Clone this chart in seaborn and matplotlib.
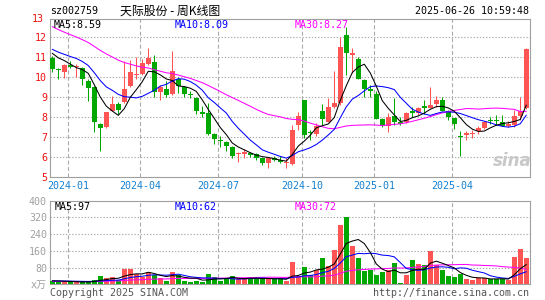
import numpy as np
import pandas as pd
import matplotlib
matplotlib.use("Agg")
import matplotlib.pyplot as plt
import seaborn as sns

# ---------------- data (weekly) ----------------
opens = [10.95, 10.43, 10.28, 10.62, 10.50, 10.48, 9.83, 9.50, 7.67, 7.53,
         8.32, 8.67, 8.78, 9.57, 10.13, 10.15, 10.67, 10.75, 9.28, 9.40,
         9.17, 9.90, 9.53, 9.13, 8.98, 8.21, 8.20, 7.17, 6.84, 6.78,
         6.52, 6.16, 6.19, 6.20, 6.15, 5.97, 5.70, 5.91, 5.88, 5.71,
         5.65, 7.62, 8.87, 7.24, 7.17, 8.32, 7.78, 8.53, 8.70, 12.12,
         11.12, 10.92, 9.87, 9.40, 9.15, 7.92, 7.57, 8.08, 7.78, 7.78,
         8.26, 8.23, 8.51, 8.48, 8.65, 8.87, 8.33, 7.95, 7.04, 7.14,
         7.16, 7.33, 7.45, 7.84, 7.84, 7.75, 7.57, 7.62, 8.08, 8.45]
highs = [11.05, 10.45, 10.68, 10.80, 10.68, 10.53, 9.90, 9.55, 7.70, 8.28,
         9.08, 8.75, 10.82, 10.87, 11.00, 10.92, 11.45, 11.12, 9.60, 9.83,
         11.30, 10.03, 9.58, 9.33, 9.00, 8.58, 8.70, 7.20, 7.08, 6.82,
         6.55, 6.25, 6.40, 6.28, 6.23, 5.98, 6.00, 6.08, 6.05, 5.95,
         7.62, 8.28, 8.88, 7.37, 7.73, 8.65, 8.95, 10.33, 12.00, 12.50,
         11.48, 11.00, 9.90, 9.62, 9.33, 7.95, 8.20, 8.95, 8.00, 8.25,
         8.53, 8.53, 8.87, 9.53, 9.08, 9.00, 8.38, 7.98, 7.32, 7.32,
         7.37, 7.57, 7.83, 8.03, 8.12, 8.12, 7.80, 8.37, 9.00, 11.45]
lows = [10.28, 9.90, 9.95, 10.45, 10.00, 9.60, 8.80, 7.28, 6.30, 7.48,
        8.30, 8.15, 8.70, 9.52, 9.90, 10.10, 10.60, 9.03, 8.88, 9.00,
        9.12, 9.20, 9.03, 8.98, 8.15, 8.00, 7.10, 6.67, 6.53, 6.30,
        5.95, 5.78, 5.95, 6.00, 5.87, 5.62, 5.48, 5.80, 5.70, 5.45,
        5.60, 7.37, 6.98, 6.87, 7.05, 7.62, 7.75, 8.48, 8.62, 10.12,
        10.20, 9.90, 9.00, 9.00, 7.90, 7.50, 7.28, 7.60, 7.63, 7.70,
        8.03, 8.10, 8.15, 8.45, 8.53, 8.30, 7.87, 7.42, 6.08, 6.87,
        6.95, 7.15, 7.42, 7.65, 7.62, 7.55, 7.50, 7.53, 7.88, 8.40]
closes = [10.40, 10.38, 10.60, 10.52, 10.52, 9.90, 9.45, 7.75, 7.45, 8.25,
          8.67, 8.37, 9.42, 10.28, 10.15, 10.70, 10.95, 9.28, 9.53, 9.12,
          10.32, 9.57, 9.15, 9.11, 8.33, 8.19, 7.17, 6.92, 6.82, 6.58,
          6.08, 6.18, 6.21, 6.10, 5.98, 5.70, 5.97, 5.89, 5.75, 5.73,
          7.37, 8.08, 7.12, 7.22, 7.57, 7.90, 8.53, 8.73, 11.53, 11.20,
          11.20, 9.92, 9.42, 9.32, 7.92, 7.57, 8.00, 7.78, 7.68, 8.20,
          8.24, 8.45, 8.49, 8.62, 8.87, 8.33, 8.03, 7.65, 7.02, 7.16,
          7.18, 7.45, 7.75, 7.82, 7.82, 7.58, 7.67, 8.07, 8.32, 11.42]
volumes = [16, 13, 12, 11, 12, 11, 12, 22, 40, 30,
           35, 19, 75, 75, 48, 34, 58, 45, 32, 18,
           58, 45, 16, 12, 17, 12, 50, 36, 16, 25,
           42, 27, 27, 27, 27, 31, 28, 24, 24, 16,
           107, 42, 84, 45, 68, 125, 88, 163, 282, 321,
           182, 125, 66, 70, 45, 58, 67, 101, 6, 45,
           116, 97, 92, 158, 92, 67, 42, 34, 48, 26,
           21, 29, 29, 26, 26, 26, 21, 131, 170, 126]
# weeks before the visible window (estimated so the averages start where the chart shows)
prior_closes = [14.8, 14.5, 14.2, 14.0, 13.9, 13.8, 13.6, 13.5, 13.4, 13.3,
                13.1, 13.0, 12.8, 12.7, 12.6, 12.2, 11.9, 11.7, 11.5, 11.5,
                11.8, 11.7, 11.6, 11.5, 11.4, 11.5, 11.3, 11.4, 11.4]
prior_volumes = [14, 13, 12, 15, 11, 12, 13, 14, 12, 11,
                 13, 12, 14, 13, 12, 11, 13, 12, 14, 12,
                 15, 16, 14, 18, 17, 16, 18, 17, 19]
month_labels = ["2024-01", "2024-04", "2024-07", "2024-10", "2025-01", "2025-04"]
month_index = [3, 15, 28, 42, 54, 67]
price_ticks = [5, 6, 7, 8, 9, 10, 11, 12]
vol_ticks = [0, 80, 160, 240, 320, 400]
vol_tick_labels = ["x万", "80", "160", "240", "320", "400"]

# ---------------- derived ----------------
n = len(closes)
idx = np.arange(n)
df = pd.DataFrame({"i": idx, "o": opens, "h": highs, "l": lows, "c": closes, "v": volumes})
allc = pd.Series(prior_closes + closes)
allv = pd.Series(prior_volumes + volumes)
for w in (5, 10, 30):
    df[f"ma{w}"] = allc.rolling(w, min_periods=1).mean().iloc[-n:].to_numpy()
    df[f"vma{w}"] = allv.rolling(w, min_periods=1).mean().iloc[-n:].to_numpy()

RED = "#ff5454"
GREEN = "#00a800"
df["col"] = np.where(df["c"] >= df["o"], RED, GREEN)

sns.set_style("white")
plt.rcParams["font.family"] = ["DejaVu Sans Mono", "Noto Sans CJK SC"]
plt.rcParams["axes.unicode_minus"] = False

W, H = 545, 300
fig = plt.figure(figsize=(W / 100, H / 100), dpi=100)


def px_axes(l, t, r, b):
    return fig.add_axes([l / W, 1 - b / H, (r - l) / W, (b - t) / H])


ax = px_axes(50, 19, 529.5, 177.3)
axv = px_axes(50, 200.7, 529.5, 284.4)

FS = 7.2
LW = 0.75
GRID = "#aaaaaa"
FRAME = "#a0a0a0"
xlim = (-0.38, 79.53)
vpos = [m - 0.4 for m in month_index]

# ---------------- price pane ----------------
ax.vlines(df["i"], df["l"], df["h"], colors=df["col"], lw=0.75, zorder=2)
body_lo = np.minimum(df["o"], df["c"])
body_h = np.maximum((df["c"] - df["o"]).abs(), 0.055)
ax.bar(df["i"], body_h, bottom=body_lo, width=0.76, color=df["col"], lw=0, zorder=3)

sns.lineplot(data=df, x="i", y="ma30", color="#ff00ff", lw=LW, ax=ax, zorder=4)
sns.lineplot(data=df, x="i", y="ma10", color="#0000ff", lw=LW, ax=ax, zorder=4)
sns.lineplot(data=df, x="i", y="ma5", color="#000000", lw=LW, ax=ax, zorder=5)

ax.set_xlim(*xlim)
ax.set_ylim(5, 12.915)
ax.set_yticks(price_ticks)
ax.set_yticklabels([str(t) for t in price_ticks])
ax.set_xticks(vpos)
ax.set_xticklabels(month_labels)
ax.tick_params(axis="y", colors="#ee1111", length=0, pad=2.2, labelsize=FS)
ax.tick_params(axis="x", colors="#1580d0", length=0, pad=3.0, labelsize=FS)
ax.set_xlabel("")
ax.set_ylabel("")
for t in price_ticks[1:]:
    ax.axhline(t, color=GRID, lw=0.8, ls=(0, (1.2, 1.6)), zorder=1)
ax.text(-0.012, 12.93, "13", transform=ax.get_yaxis_transform(), ha="right",
        va="center", color="#ee1111", fontsize=FS)
ax.text(0.965, 0.10, "sina", transform=ax.transAxes, ha="center", va="center",
        color="#c8c8c8", fontsize=12, style="italic", fontweight="bold",
        family="DejaVu Sans", zorder=1)

# ---------------- volume pane ----------------
axv.bar(df["i"], df["v"], width=0.78, color=df["col"], lw=0, zorder=3)
sns.lineplot(data=df, x="i", y="vma30", color="#ff00ff", lw=LW, ax=axv, zorder=4)
sns.lineplot(data=df, x="i", y="vma10", color="#0000ff", lw=LW, ax=axv, zorder=4)
sns.lineplot(data=df, x="i", y="vma5", color="#000000", lw=LW, ax=axv, zorder=5)
axv.set_xlim(*xlim)
axv.set_ylim(0, 400)
axv.set_yticks(vol_ticks)
axv.set_yticklabels(vol_tick_labels)
axv.set_xticks([])
axv.tick_params(axis="y", colors="#a0a0a0", length=0, pad=2.2, labelsize=FS)
axv.set_xlabel("")
axv.set_ylabel("")
for t in vol_ticks[1:-1]:
    axv.axhline(t, color=GRID, lw=0.8, ls=(0, (1.2, 1.6)), zorder=1)

for a in (ax, axv):
    for x in vpos:
        a.axvline(x, color=GRID, lw=0.8, ls=(0, (3.6, 2.2)), zorder=1)
    for s in a.spines.values():
        s.set_color(FRAME)
        s.set_linewidth(0.8)
        s.set_visible(True)

# ---------------- texts ----------------
def ftext(x, y, s, **kw):
    kw.setdefault("fontsize", FS)
    kw.setdefault("va", "center")
    fig.text(x / W, 1 - y / H, s, **kw)


ftext(50, 11, "sz002759", color="black")
ftext(120, 11, "天际股份 - 周K线图", color="black", fontsize=8.6,
      family=["Noto Sans CJK SC", "DejaVu Sans"])
ftext(529, 11, "2025-06-26 10:59:48", color="black", ha="right")

ftext(54, 24.5, "MA5:8.59", color="black")
ftext(174.5, 24.5, "MA10:8.09", color="#0000ff")
ftext(295, 24.5, "MA30:8.27", color="#ff00ff")

ftext(55, 206.5, "MA5:97", color="black")
ftext(175, 206.5, "MA10:62", color="#0000ff")
ftext(295, 206.5, "MA30:72", color="#ff00ff")

ftext(50, 292.5, "Copyright 2025 SINA.COM", color="#555555")
ftext(529, 292.5, "http://finance.sina.com.cn", color="#555555", ha="right")

fig.savefig("out.png", dpi=100)
